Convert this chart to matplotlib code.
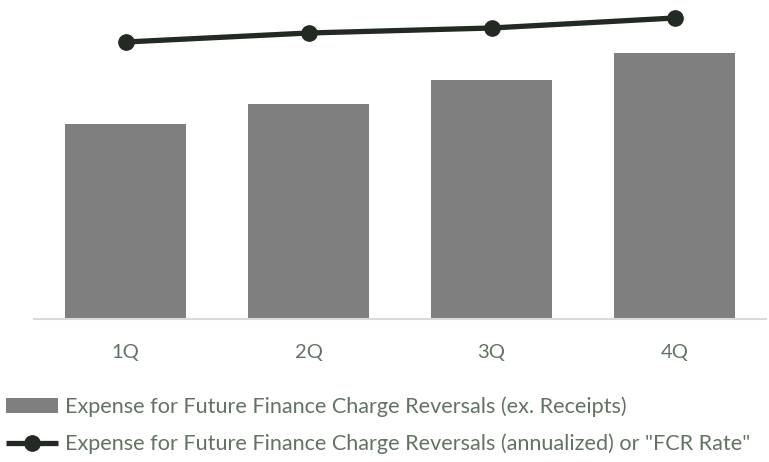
import matplotlib.pyplot as plt

# data (arbitrary units, no y axis shown)
quarters = ["1Q", "2Q", "3Q", "4Q"]
expense_ex_receipts = [1.95, 2.15, 2.39, 2.66]
fcr_rate = [2.77, 2.86, 2.91, 3.01]

bar_label = "Expense for Future Finance Charge Reversals (ex. Receipts)"
line_label = 'Expense for Future Finance Charge Reversals (annualized) or "FCR Rate"'

text_color = "#637363"
plt.rcParams["font.family"] = ["Lato", "DejaVu Sans"]

fig = plt.figure(figsize=(7.69, 4.62), dpi=100)
ax = fig.add_axes([34 / 769, 143 / 462, 732 / 769, 319 / 462])

x = range(len(quarters))
bars = ax.bar(x, expense_ex_receipts, width=0.66, color="#7f7f7f", label=bar_label)
line, = ax.plot(x, fcr_rate, color="#232923", lw=3.8, marker="o", markersize=11,
                label=line_label, solid_capstyle="butt")

ax.set_xlim(-0.5, 3.5)
ax.set_ylim(0, 3.19)
ax.set_xticks(list(x))
ax.set_xticklabels(quarters, fontsize=14.5, color=text_color)
ax.tick_params(axis="x", length=0, pad=18)
ax.set_yticks([])
for s in ["top", "right", "left"]:
    ax.spines[s].set_visible(False)
ax.spines["bottom"].set_color("#d9d9d9")
ax.spines["bottom"].set_linewidth(1.5)

fig.legend(handles=[bars, line], loc="upper left", bbox_to_anchor=(0.008, 0.141),
           frameon=False, fontsize=15.6, labelcolor=text_color, handlelength=2.4,
           handletextpad=0.3, labelspacing=0.75, borderaxespad=0, borderpad=0)

fig.savefig("out.png", dpi=100)
